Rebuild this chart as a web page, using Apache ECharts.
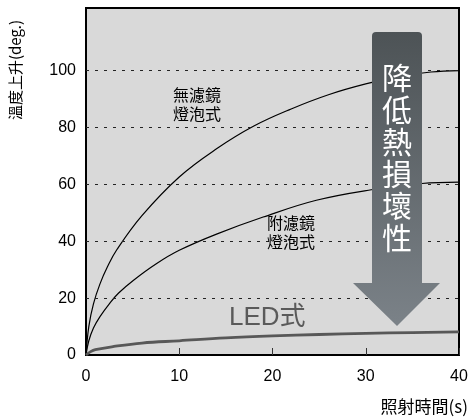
<!DOCTYPE html>
<html>
<head>
<meta charset="utf-8">
<script src="https://cdn.jsdelivr.net/npm/echarts@6/dist/echarts.min.js"></script>
<style>
html,body{margin:0;padding:0;background:#fff;}
#main{width:471px;height:419px;}
</style>
</head>
<body>
<div id="main"></div>
<script>
// ---- data ----
var xTicks = [0, 10, 20, 30, 40];
var yTicks = [0, 20, 40, 60, 80, 100];
var gridValues = [20, 40, 60, 80, 100];

var noFilterT = [0, 0.3, 0.8, 1.5, 2.3, 3.3, 6, 10, 14, 18, 22, 26, 30, 34, 37, 40];
var noFilterV = [0, 10, 18, 25, 31, 37, 49, 62.6, 72.5, 80.5, 86.5, 91.5, 95.3, 98.2, 99.5, 100];

var withFilterT = [0, 0.3, 0.8, 1.5, 2.5, 3.5, 5.1, 7.5, 10, 14, 19, 24.7, 30.6, 36, 40];
var withFilterV = [0, 5, 9.5, 13.5, 18, 21.8, 26.3, 32, 36.8, 42.5, 48.5, 54.4, 58.1, 60.3, 60.8];

var ledT = [0, 0.5, 1, 3, 6, 10, 15, 20, 25, 30, 35, 40];
var ledV = [0, 1.2, 1.9, 3.0, 4.2, 5.0, 6.0, 6.7, 7.2, 7.6, 7.9, 8.1];

var xName = '照射時間(s)';
var yName = '溫度上升(deg.)';
var arrowText = '降低熱損壞性';
var label1 = '無濾鏡\n燈泡式';
var label2 = '附濾鏡\n燈泡式';
var label3 = 'LED式';

function pairs(t, v) { return t.map(function (x, i) { return [x, v[i]]; }); }

var chart = echarts.init(document.getElementById('main'), null, {renderer: 'canvas'});
var arrowGrad = {
  type: 'linear', x: 0, y: 32, x2: 0, y2: 326, global: true,
  colorStops: [{offset: 0, color: '#4d5356'}, {offset: 1, color: '#7b8288'}]
};
var cjk = '"Noto Sans CJK TC", "Liberation Sans", sans-serif';
var latin = '"Liberation Sans", Arial, "Noto Sans CJK TC", sans-serif';

chart.setOption({
  animation: false,
  backgroundColor: '#fff',
  grid: {
    left: 86, top: 8, right: 12, bottom: 64,
    show: true, backgroundColor: '#d9d9d9', borderColor: '#000', borderWidth: 2
  },
  xAxis: {
    type: 'value', min: 0, max: 40, interval: 10,
    axisLine: {show: true, lineStyle: {color: '#000', width: 2}},
    axisTick: {show: true, inside: true, length: 7, lineStyle: {color: '#333', width: 1}},
    axisLabel: {color: '#000', fontSize: 16, fontFamily: latin, margin: 14,
      formatter: function (v) { return xTicks.indexOf(v) >= 0 ? String(v) : ''; }},
    splitLine: {show: false}
  },
  yAxis: {
    type: 'value', min: 0, max: 122, interval: 20,
    axisLine: {show: true, lineStyle: {color: '#000', width: 2}},
    axisTick: {show: false},
    axisLabel: {color: '#000', fontSize: 16, fontFamily: latin, margin: 10,
      formatter: function (v) { return yTicks.indexOf(v) >= 0 ? String(v) : ''; }},
    splitLine: {show: false}
  },
  series: [
    {
      type: 'line', data: pairs(noFilterT, noFilterV), smooth: 0.4,
      showSymbol: false, lineStyle: {color: '#000', width: 1.2}, z: 3,
      markLine: {
        silent: true, symbol: 'none', label: {show: false},
        lineStyle: {color: '#222', type: [3, 6], width: 1},
        data: gridValues.map(function (v) { return {yAxis: v}; })
      }
    },
    {
      type: 'line', data: pairs(withFilterT, withFilterV), smooth: 0.4,
      showSymbol: false, lineStyle: {color: '#000', width: 1.2}, z: 3
    },
    {
      type: 'line', data: pairs(ledT, ledV), smooth: 0.4,
      showSymbol: false, lineStyle: {color: '#585858', width: 2.8}, z: 3
    }
  ],
  graphic: [
    {type: 'text', left: 173, top: 85, z: 10,
      style: {text: label1, font: '16px ' + cjk, fill: '#000', lineHeight: 19}},
    {type: 'text', left: 267, top: 213, z: 10,
      style: {text: label2, font: '16px ' + cjk, fill: '#000', lineHeight: 19}},
    {type: 'text', x: 229, y: 318, z: 10,
      style: {text: label3, font: '26px ' + latin, fill: '#5a5a5a', textVerticalAlign: 'middle'}},
    {type: 'rect', z: 20, shape: {x: 372, y: 32, width: 50, height: 252, r: [4, 4, 0, 0]},
      style: {fill: arrowGrad}},
    {type: 'polygon', z: 20, shape: {points: [[353, 283], [440, 283], [399, 324], [397, 326], [395, 324]]},
      style: {fill: arrowGrad}},
    {type: 'text', z: 21, x: 397, y: 62,
      style: {text: arrowText.split('').join('\n'), font: '30px ' + cjk, fill: '#fff',
        lineHeight: 32, textAlign: 'center', textVerticalAlign: 'top'}},
    {type: 'text', z: 10, x: 468, y: 407,
      style: {text: xName, font: '17px ' + cjk, fill: '#000', textAlign: 'right', textVerticalAlign: 'middle'}},
    {type: 'text', z: 10, x: 15, y: 70, rotation: Math.PI / 2,
      style: {text: yName, font: '15px ' + cjk, fill: '#000', textAlign: 'center', textVerticalAlign: 'middle'}}
  ]
});
</script>
</body>
</html>
